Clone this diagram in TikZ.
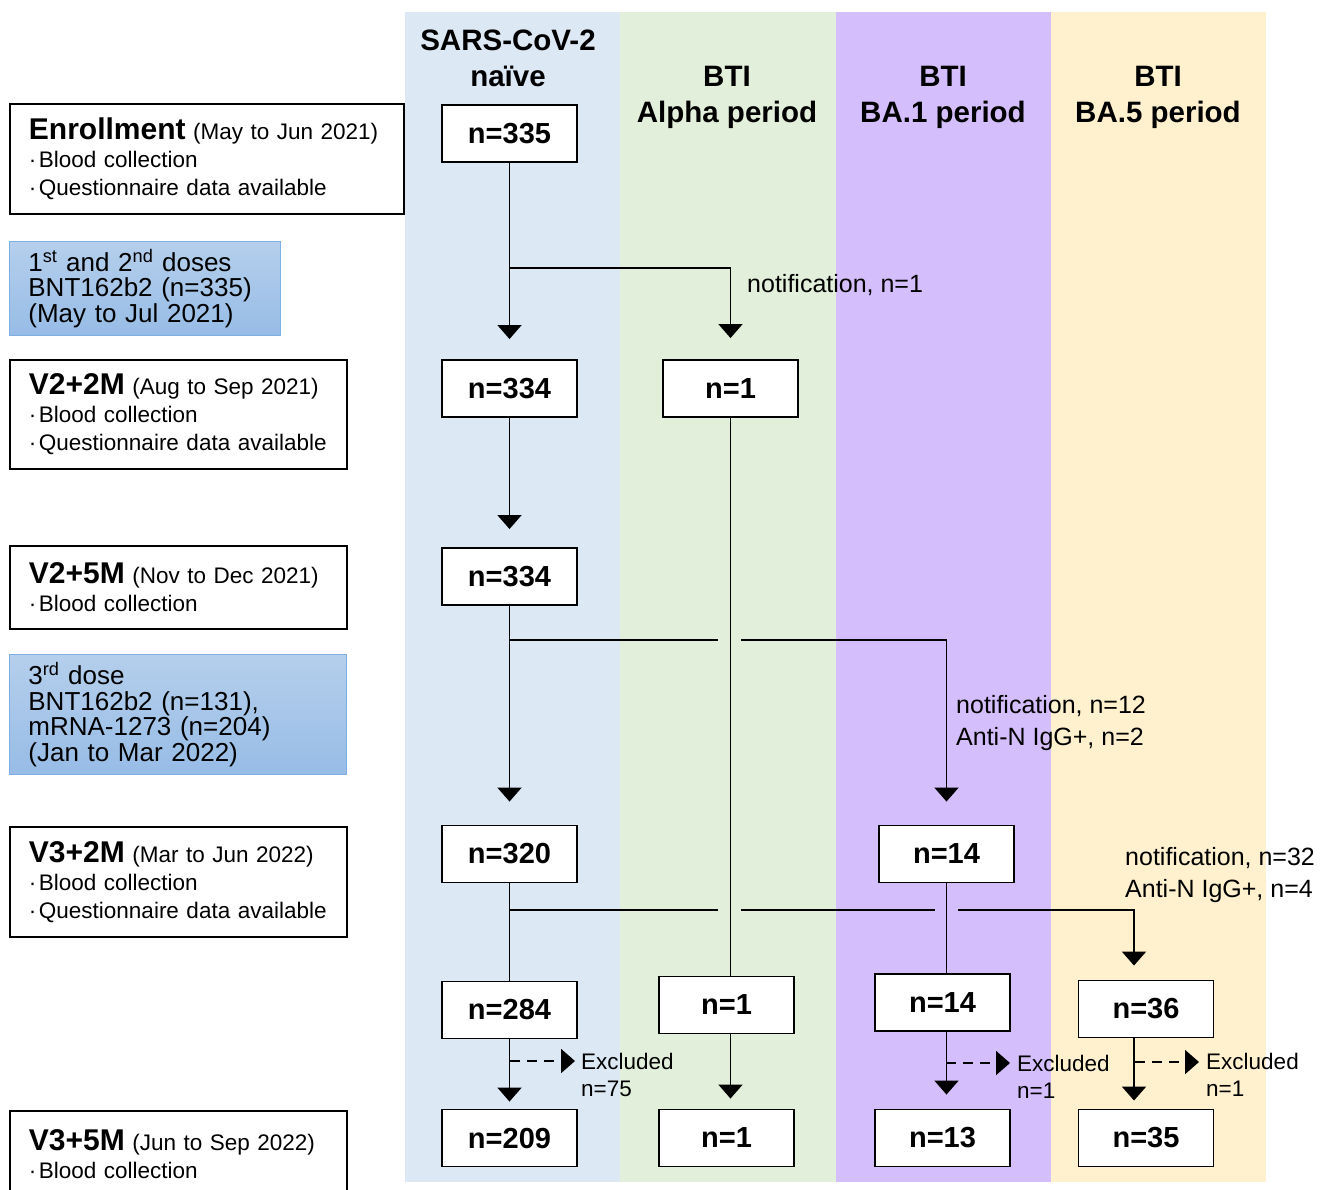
\documentclass[tikz,border=0pt]{standalone}
\usepackage{fontspec}
\setmainfont{Liberation Sans}
\usetikzlibrary{arrows.meta}
\definecolor{bandblue}{HTML}{DDE8F5}
\definecolor{bandgreen}{HTML}{E2EFDA}
\definecolor{bandpurple}{HTML}{D5BEFC}
\definecolor{bandyellow}{HTML}{FFF0CE}
\definecolor{dosetop}{HTML}{B5CFEC}
\definecolor{dosebot}{HTML}{97BCE6}
\definecolor{doseline}{HTML}{7FAEE2}
\newcommand\boxtitle[1]{{\fontsize{30}{28}\selectfont\bfseries #1}}
\newcommand\bul{·\hspace{2.5pt}}
\tikzset{
  cnt/.style={draw, fill=white, line width=1.9pt, minimum width=135pt, minimum height=57pt, inner sep=0pt, font=\fontsize{29}{30}\selectfont\bfseries},
  lbox/.style={draw, fill=white, line width=1.9pt, anchor=north west, align=left, inner xsep=19pt, inner ysep=0pt, font=\fontsize{22.5}{28}\selectfont},
  dosebox/.style={draw=doseline, line width=0.8pt, top color=dosetop, bottom color=dosebot, anchor=north west, align=left, inner xsep=19pt, inner ysep=0pt, font=\fontsize{26}{25.5}\selectfont},
  hdr/.style={align=center, font=\fontsize{29.5}{36}\selectfont\bfseries},
  note/.style={anchor=west, align=left, inner sep=0pt, font=\fontsize{25}{32}\selectfont},
  excl/.style={anchor=west, align=left, inner sep=0pt, font=\fontsize{22.5}{27}\selectfont},
  conn/.style={line width=1.9pt},
  arr/.style={line width=1.9pt, -{Triangle[width=24pt,length=14pt]}},
  darr/.style={line width=1.9pt, dash pattern=on 10pt off 7pt, -{Triangle[width=24pt,length=14pt]}},
}
\begin{document}
\begin{tikzpicture}[x=1pt,y=-1pt]
\useasboundingbox (0,0) rectangle (1327,1189);
% bands
\fill[bandblue] (405,12) rectangle (620,1182);
\fill[bandgreen] (620,12) rectangle (836,1182);
\fill[bandpurple] (836,12) rectangle (1051,1182);
\fill[bandyellow] (1051,12) rectangle (1266,1182);
% headers
\node[hdr] (h1) at (508,58) {SARS-CoV-2\\naïve};
\node[hdr] (h2) at (727,97) {BTI\\Alpha period};
\node[hdr] (h3) at (943,97) {BTI\\BA.1 period};
\node[hdr] (h4) at (1158,97) {BTI\\BA.5 period};
% left boxes
\node[lbox, text width=356pt, minimum height=110pt] (enr) at (9,103)
  {\boxtitle{Enrollment} (May to Jun 2021)\\\bul Blood collection\\\bul Questionnaire data available};
\node[dosebox, text width=233pt, minimum height=94pt] (dose12) at (9,241)
  {1\textsuperscript{st} and 2\textsuperscript{nd} doses\\BNT162b2 (n=335)\\(May to Jul 2021)};
\node[lbox, text width=299pt, minimum height=109pt] (v22) at (9,359)
  {\boxtitle{V2+2M} (Aug to Sep 2021)\\\bul Blood collection\\\bul Questionnaire data available};
\node[lbox, text width=299pt, minimum height=83pt] (v25) at (9,545)
  {\boxtitle{V2+5M} (Nov to Dec 2021)\\\bul Blood collection};
\node[dosebox, text width=299pt, minimum height=120pt] (dose3) at (9,654)
  {3\textsuperscript{rd} dose\\BNT162b2 (n=131),\\mRNA-1273 (n=204)\\(Jan to Mar 2022)};
\node[lbox, text width=299pt, minimum height=110pt] (v32) at (9,826)
  {\boxtitle{V3+2M} (Mar to Jun 2022)\\\bul Blood collection\\\bul Questionnaire data available};
\node[lbox, text width=299pt, minimum height=86pt] (v35) at (9,1110)
  {\boxtitle{V3+5M} (Jun to Sep 2022)\\\bul Blood collection};
% count boxes
\node[cnt] (n335) at (509.5,133.5) {n=335};
\node[cnt] (n334a) at (509.5,388.5) {n=334};
\node[cnt] (n1a) at (730.5,388.5) {n=1};
\node[cnt] (n334b) at (509.5,576.5) {n=334};
\node[cnt] (n320) at (509.5,854) {n=320};
\node[cnt] (n14a) at (946.5,854) {n=14};
\node[cnt] (n284) at (509.5,1010) {n=284};
\node[cnt] (n1b) at (726.5,1005) {n=1};
\node[cnt] (n14b) at (942.5,1002.5) {n=14};
\node[cnt] (n36) at (1146,1009) {n=36};
\node[cnt] (n209) at (509.5,1138) {n=209};
\node[cnt] (n1c) at (726.5,1138) {n=1};
\node[cnt] (n13) at (942.5,1138) {n=13};
\node[cnt] (n35) at (1146,1138) {n=35};
% notes
\node[note] (note1) at (747,285) {notification, n=1};
\node[note] (note2) at (956,723) {notification, n=12\\Anti-N IgG+, n=2};
\node[note] (note3) at (1125,875) {notification, n=32\\Anti-N IgG+, n=4};
% helper coordinates
\coordinate (b1) at (510,268);
\coordinate (b2) at (510,640);
\coordinate (g2a) at (718,640);
\coordinate (g2b) at (741,640);
\coordinate (b3) at (510,910);
\coordinate (g3a) at (718,910);
\coordinate (g3b) at (741,910);
\coordinate (g3c) at (935,910);
\coordinate (g3d) at (958,910);
\coordinate (d1) at (510,1061);
\coordinate (e1) at (575,1061);
\coordinate (d2) at (946,1063);
\coordinate (e2) at (1010,1063);
\coordinate (d3) at (1135,1062);
\coordinate (e3) at (1199,1062);
% excluded labels
\node[excl] (x1) at (581,1074.5) {Excluded\\n=75};
\node[excl] (x2) at (1017,1076.5) {Excluded\\n=1};
\node[excl] (x3) at (1206,1075) {Excluded\\n=1};
% connectors
\draw[arr, shorten >=20pt] (n335.south) -- (n334a.north);
\draw[arr, shorten >=21pt] (b1) -| (n1a.north);
\draw[arr, shorten >=18pt] (n334a.south) -- (n334b.north);
\draw[conn] (n1a.south) -- (n1a.south |- n1b.north);
\draw[arr, shorten >=23pt] (n334b.south) -- (n320.north);
\draw[conn] (b2) -- (g2a);
\draw[arr, shorten >=23pt] (g2b) -| (n14a.north);
\draw[conn] (n320.south) -- (n284.north);
\draw[conn] (b3) -- (g3a);
\draw[conn] (g3b) -- (g3c);
\draw[arr, shorten >=14pt] (g3d) -| (n36.north -| 1134,0);
\draw[conn] (n14a.south) -- (n14a.south |- n14b.north);
\draw[arr, shorten >=7pt] (n284.south) -- (n209.north);
\draw[darr] (d1) -- (e1);
\draw[arr, shorten >=10pt] (n1b.south -| n1a.south) -- (n1c.north -| n1a.south);
\draw[arr, shorten >=14pt] (n14b.south -| n14a.south) -- (n13.north -| n14a.south);
\draw[darr] (d2) -- (e2);
\draw[arr, shorten >=8pt] (n36.south -| 1134,0) -- (n35.north -| 1134,0);
\draw[darr] (d3) -- (e3);
\end{tikzpicture}
\end{document}
